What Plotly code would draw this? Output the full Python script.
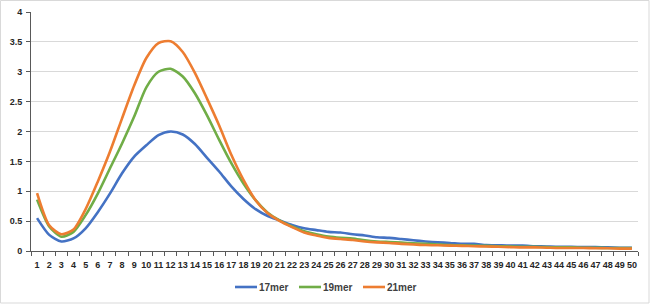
import plotly.graph_objects as go

categories = [str(i) for i in range(1, 51)]

mer17 = [0.55, 0.27, 0.16, 0.21, 0.38, 0.65, 0.96, 1.30, 1.58, 1.77,
         1.94, 2.00, 1.95, 1.79, 1.56, 1.33, 1.08, 0.87, 0.70, 0.585,
         0.51, 0.435, 0.38, 0.35, 0.32, 0.31, 0.28, 0.26, 0.23, 0.22,
         0.20, 0.18, 0.16, 0.145, 0.135, 0.12, 0.12, 0.10, 0.095, 0.09,
         0.09, 0.08, 0.075, 0.07, 0.07, 0.065, 0.065, 0.06, 0.055, 0.055]

mer19 = [0.86, 0.41, 0.24, 0.32, 0.60, 0.96, 1.38, 1.80, 2.25, 2.74,
         3.00, 3.05, 2.92, 2.64, 2.27, 1.86, 1.47, 1.13, 0.85, 0.64,
         0.51, 0.41, 0.33, 0.28, 0.24, 0.22, 0.21, 0.18, 0.16, 0.15,
         0.14, 0.13, 0.12, 0.11, 0.10, 0.095, 0.09, 0.085, 0.08, 0.075,
         0.07, 0.07, 0.065, 0.06, 0.06, 0.055, 0.055, 0.05, 0.05, 0.05]

mer21 = [0.97, 0.43, 0.28, 0.36, 0.70, 1.16, 1.66, 2.22, 2.77, 3.23,
         3.48, 3.51, 3.33, 2.98, 2.55, 2.10, 1.61, 1.19, 0.85, 0.63,
         0.50, 0.40, 0.31, 0.26, 0.22, 0.20, 0.185, 0.16, 0.145, 0.135,
         0.12, 0.11, 0.10, 0.095, 0.09, 0.085, 0.08, 0.075, 0.07, 0.065,
         0.06, 0.06, 0.055, 0.05, 0.05, 0.05, 0.045, 0.045, 0.04, 0.04]

series = [("17mer", mer17, "#4472C4"),
          ("19mer", mer19, "#70AD47"),
          ("21mer", mer21, "#ED7D31")]

FAM = "Liberation Sans, Arial, sans-serif"
tickfont = dict(family=FAM, size=9, color="#262626", weight="bold")

fig = go.Figure()
for name, vals, color in series:
    fig.add_trace(go.Scatter(
        x=categories, y=vals, name=name, mode="lines", showlegend=False,
        line=dict(color=color, width=2.6, shape="spline", smoothing=0.7),
    ))

# custom legend (short line samples like the original)
W, H = 650, 304
shapes = [dict(type="rect", xref="paper", yref="paper", x0=-30.5 / 607, x1=1 + 11 / 607,
               y0=-52 / 239, y1=1 + 11.5 / 239, line=dict(color="#D9D9D9", width=1))]
annotations = []
x_start = 235
for i, (name, vals, color) in enumerate(series):
    x0 = x_start + i * 64
    shapes.append(dict(type="line", xref="paper", yref="paper",
                       x0=(x0 - 31) / 607, x1=(x0 + 22 - 31) / 607,
                       y0=(251 - 287) / 239, y1=(251 - 287) / 239,
                       line=dict(color=color, width=2.6)))
    annotations.append(dict(text=name, xref="paper", yref="paper",
                            x=(x0 + 22 - 31) / 607, y=(251 - 287) / 239,
                            xanchor="left", yanchor="middle", showarrow=False,
                            font=dict(family=FAM, size=10, color="#404040", weight="bold")))

fig.update_layout(
    width=W, height=H,
    margin=dict(l=31, r=12, t=12, b=53, autoexpand=False),
    paper_bgcolor="white", plot_bgcolor="white",
    font=dict(family=FAM, size=9, color="#404040"),
    showlegend=False,
    xaxis=dict(type="category", range=[-0.5, 49.5], tickson="boundaries", ticks="outside", ticklen=4,
               tickcolor="#595959", showline=True, linecolor="#595959", linewidth=1,
               showgrid=False, tickangle=0, automargin=False, tickfont=tickfont,
               ticklabelstandoff=5),
    yaxis=dict(range=[0, 4], dtick=0.5, ticks="outside", ticklen=4, tickcolor="#595959",
               showline=True, linecolor="#595959", linewidth=1, automargin=False,
               showgrid=True, gridcolor="#D9D9D9", gridwidth=1, zeroline=False,
               tickfont=tickfont, ticklabelstandoff=2),
    shapes=shapes,
    annotations=annotations,
)

fig.write_html("out.html")
